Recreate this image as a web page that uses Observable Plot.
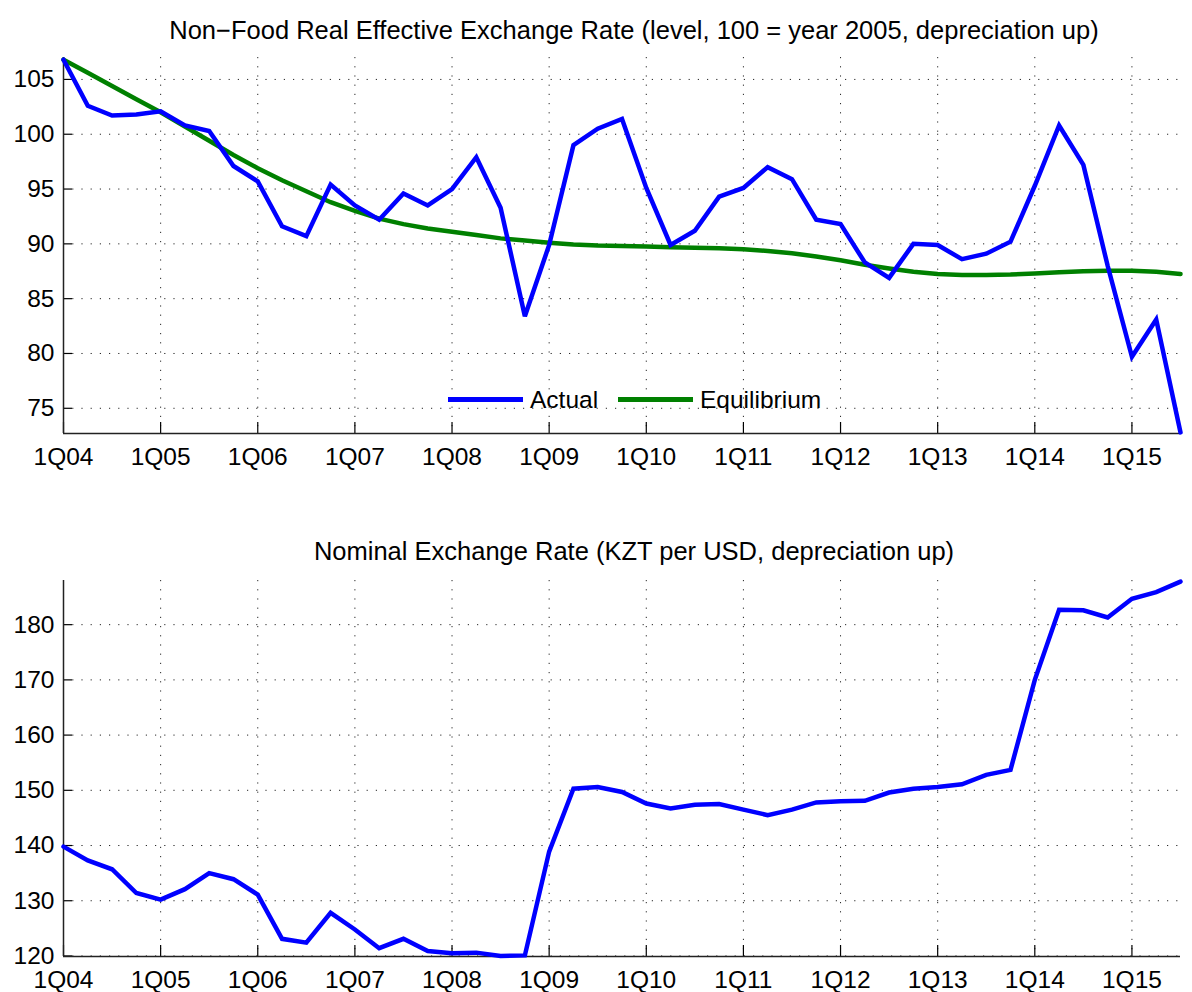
<!DOCTYPE html>
<html><head><meta charset="utf-8">
<script src="https://cdn.jsdelivr.net/npm/d3@7"></script>
<script src="https://cdn.jsdelivr.net/npm/@observablehq/plot@0.6"></script>
<style>
body{margin:0;background:#fff;}
#root{position:relative;width:1192px;height:992px;font-family:"Liberation Sans",Arial,sans-serif;color:#000;background:#fff;overflow:hidden;}
.title{position:absolute;left:0;width:1268px;text-align:center;font-size:25.5px;line-height:26px;white-space:nowrap;}
.panel{position:absolute;left:0;}
.legend{position:absolute;font-size:24.5px;line-height:24px;white-space:nowrap;}
.sw{position:absolute;height:5px;}
</style></head>
<body>
<div id="root">
  <div class="title" style="top:17px">Non−Food Real Effective Exchange Rate (level, 100 = year 2005, depreciation up)</div>
  <div class="panel" id="p1" style="top:0px"></div>
  <div class="title" style="top:538px">Nominal Exchange Rate (KZT per USD, depreciation up)</div>
  <div class="panel" id="p2" style="top:500px"></div>
</div>
<script>
// ---- data ----
const tickPositions = [0, 4, 8, 12, 16, 20, 24, 28, 32, 36, 40, 44];
const tickLabels = ["1Q04","1Q05","1Q06","1Q07","1Q08","1Q09","1Q10","1Q11","1Q12","1Q13","1Q14","1Q15"];
const seriesNames = ["Actual", "Equilibrium"];
const reerActual = [106.8,102.6,101.7,101.8,102.1,100.8,100.3,97.1,95.7,91.6,
  90.7,95.4,93.5,92.2,94.6,93.5,95.0,97.9,93.3,83.4,
  89.9,99.0,100.5,101.4,95.1,89.9,91.2,94.3,95.1,97.0,
  95.9,92.2,91.8,88.3,86.9,90.0,89.9,88.6,89.1,90.2,
  95.3,100.8,97.2,88.0,79.7,83.1,72.8];
const reerEquilibrium = [106.8,105.6,104.4,103.2,102.0,100.7,99.4,98.1,96.9,95.8,
  94.8,93.8,93.0,92.3,91.8,91.4,91.1,90.8,90.5,90.3,
  90.1,89.95,89.85,89.8,89.75,89.7,89.65,89.6,89.5,89.35,
  89.15,88.85,88.5,88.1,87.75,87.45,87.25,87.15,87.15,87.2,
  87.3,87.4,87.5,87.55,87.55,87.45,87.25];
const nominalRate = [139.8,137.3,135.7,131.4,130.2,132.1,135.0,133.9,131.1,123.1,
  122.4,127.8,124.8,121.4,123.1,120.9,120.5,120.6,120.0,120.1,
  138.9,150.3,150.6,149.7,147.6,146.7,147.4,147.5,146.5,145.5,
  146.5,147.8,148.0,148.1,149.6,150.3,150.6,151.1,152.8,153.7,
  170.0,182.7,182.6,181.3,184.7,185.9,187.8];
const reerTicks = [75, 80, 85, 90, 95, 100, 105];
const nominalTicks = [120, 130, 140, 150, 160, 170, 180];

const W = 1192, ML = 63, MR = 12;
const blue = "#0000ff", green = "#008000";

function panel({series, yDomain, yTicks, height, marginTop, marginBottom}) {
  const plotH = height - marginTop - marginBottom;
  const plotW = W - ML - MR;
  const grid = {stroke: "#000", strokeWidth: 1, strokeDasharray: "1.2,8", strokeOpacity: 0.85};
  const marks = [
    Plot.ruleY(yTicks, {y: d => d, ...grid}),
    Plot.ruleX(tickPositions, {x: d => d, ...grid}),
    Plot.tickX(tickPositions, {x: d => d, insetTop: plotH - 11, stroke: "#000", strokeWidth: 1.2}),
    Plot.tickY(yTicks, {y: d => d, insetRight: plotW - 9, stroke: "#000", strokeWidth: 1.2}),
    Plot.ruleX([0], {stroke: "#222", strokeWidth: 1.5}),
    Plot.ruleY([yDomain[0]], {stroke: "#222", strokeWidth: 1.5}),
  ];
  for (const s of series) {
    marks.push(Plot.line(s.values.map((v, i) => ({q: i, v})), {x: "q", y: "v", stroke: s.color, strokeWidth: 4.5, strokeLinejoin: "miter", strokeMiterlimit: 3}));
  }
  marks.push(Plot.axisX({ticks: tickPositions, tickFormat: d => tickLabels[tickPositions.indexOf(d)], tickSize: 0, tickPadding: 14, fill: "#000", label: null}));
  marks.push(Plot.axisY({ticks: yTicks, tickSize: 0, tickPadding: 9, fill: "#000", label: null}));
  return Plot.plot({
    width: W, height, marginLeft: ML, marginRight: MR, marginTop, marginBottom,
    style: {fontSize: "24.5px", fontFamily: "Liberation Sans, Arial, sans-serif", background: "transparent", color: "#000", overflow: "visible"},
    x: {domain: [0, 46], axis: null},
    y: {domain: yDomain, axis: null},
    marks
  });
}

const p1 = panel({
  series: [{values: reerEquilibrium, color: green}, {values: reerActual, color: blue}],
  yDomain: [72.7, 107.0], yTicks: reerTicks, height: 470, marginTop: 57, marginBottom: 37
});
document.getElementById("p1").appendChild(p1);

const p2 = panel({
  series: [{values: nominalRate, color: blue}],
  yDomain: [119.9, 188.0], yTicks: nominalTicks, height: 492, marginTop: 80, marginBottom: 36
});
document.getElementById("p2").appendChild(p2);

// legend (inside top panel)
const root = document.getElementById("root");
const leg = [{name: seriesNames[0], color: blue, x: 448}, {name: seriesNames[1], color: green, x: 618}];
for (const l of leg) {
  const sw = document.createElement("div");
  sw.className = "sw";
  sw.style.left = l.x + "px"; sw.style.top = "397px"; sw.style.width = "75px"; sw.style.background = l.color;
  root.appendChild(sw);
  const t = document.createElement("div");
  t.className = "legend";
  t.style.left = (l.x + 82) + "px"; t.style.top = "388px";
  t.textContent = l.name;
  root.appendChild(t);
}
</script>
</body></html>
